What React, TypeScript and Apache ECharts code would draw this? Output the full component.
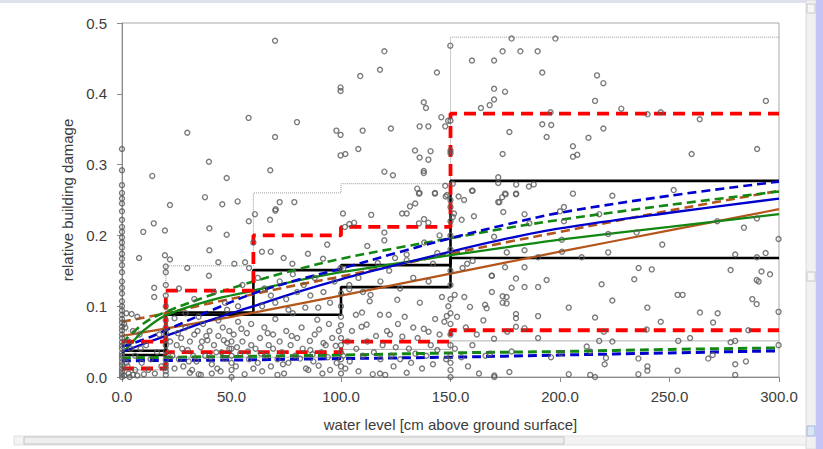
import React, { useEffect, useRef } from 'react';
import * as echarts from 'echarts';

const FONT = '"Liberation Sans", Arial, sans-serif';
const xAxisTitle = 'water level [cm above ground surface]';
const yAxisTitle = 'relative building damage';

// scatter observations [water level, relative damage]
const pointsAtZero: number[][] = [
  [0, 0.0], [0, 0.004], [0, 0.008], [0, 0.012], [0, 0.017], [0, 0.021], [0, 0.026], [0, 0.03], [0, 0.034],
  [0, 0.04], [0, 0.044], [0, 0.049], [0, 0.055], [0, 0.06], [0, 0.066], [0, 0.071], [0, 0.077], [0, 0.082],
  [0, 0.088], [0, 0.094], [0, 0.1], [0, 0.107], [0, 0.118], [0, 0.126], [0, 0.135], [0, 0.148], [0, 0.158],
  [0, 0.167], [0, 0.174], [0, 0.183], [0, 0.19], [0, 0.197], [0, 0.205], [0, 0.212], [0, 0.222], [0, 0.234],
  [0, 0.245], [0, 0.252], [0, 0.26], [0, 0.271], [0, 0.292], [0, 0.322],
];
const points0to20: number[][] = [
  [1, 0.002], [2, 0.09], [4.4, 0.089], [3, 0.005], [5, 0.003], [6, 0.01], [2, 0.02], [3, 0.05], [1.5, 0.07],
  [7, 0.085], [8, 0.06], [4, 0.04], [9, 0.02], [2.5, 0.015], [6, 0.03], [1, 0.075], [5, 0.065], [7.8, 0.168],
  [9.7, 0.205], [14.5, 0.217], [13.8, 0.284], [14.7, 0.126], [14.7, 0.113], [12, 0.01], [15, 0.005], [17, 0.06],
  [16, 0.035], [18, 0.015], [11, 0.045], [3.5, 0.0], [7, 0.002], [10, 0.004], [13, 0.025], [8.5, 0.04],
  [20, 0.003], [20, 0.008], [20, 0.013], [20, 0.018], [20, 0.024], [20, 0.03], [20, 0.037], [20, 0.045],
  [20, 0.053], [20, 0.062], [20, 0.07], [20, 0.08], [20, 0.1], [20, 0.115], [20, 0.13], [20, 0.148], [20, 0.156],
  [19.6, 0.172], [19.6, 0.207], [21.9, 0.166], [21.9, 0.243],
];
const points20to60: number[][] = [
  [23, 0.03], [25, 0.045], [26, 0.025], [27, 0.055], [28, 0.015], [29, 0.07], [30, 0.038], [31, 0.05], [32, 0.01],
  [33, 0.06], [34, 0.022], [35, 0.004], [36, 0.042], [37, 0.075], [38, 0.03], [39, 0.052], [40, 0.065], [41, 0.018],
  [42, 0.045], [43, 0.035], [44, 0.058], [45, 0.008], [46, 0.07], [47, 0.026], [48, 0.048], [49, 0.04], [50, 0.0],
  [50, 0.01], [50, 0.02], [50, 0.03], [50, 0.04], [50, 0.05], [51, 0.06], [52, 0.015], [53, 0.078], [54, 0.033],
  [55, 0.05], [56, 0.004], [57, 0.062], [58, 0.025], [59, 0.045], [60, 0.012], [24, 0.083], [29, 0.09], [35, 0.085],
  [44, 0.08], [48, 0.095], [53, 0.1], [26, 0.125], [29.8, 0.154], [39.7, 0.143], [39.9, 0.179], [44, 0.162],
  [51.3, 0.16], [56.2, 0.162], [58, 0.154], [37.9, 0.254], [45.8, 0.244], [52.8, 0.248], [39.9, 0.21], [47.8, 0.201],
  [57.9, 0.22], [29.8, 0.345], [39.7, 0.304], [47.8, 0.281], [57.8, 0.366], [33, 0.11], [42, 0.12], [47, 0.105],
  [55, 0.13], [36, 0.003], [41, 0.005], [31, 0.006], [24, 0.012], [27.5, 0.04], [32.5, 0.03], [38.5, 0.058],
  [43.5, 0.012], [46.5, 0.052], [52.5, 0.042], [57.5, 0.036], [22, 0.05], [34.5, 0.065], [40.5, 0.028],
  [45.5, 0.035], [54.5, 0.068], [59, 0.075], [30.5, 0.022], [25.5, 0.062], [36.5, 0.05], [49, 0.065],
];
const points60to100: number[][] = [
  [61, 0.04], [62, 0.02], [63, 0.055], [64, 0.008], [65, 0.07], [66, 0.03], [67, 0.045], [68, 0.015], [69, 0.06],
  [70, 0.082], [71, 0.025], [72, 0.05], [73, 0.035], [74, 0.005], [75, 0.065], [76, 0.02], [77, 0.045], [78, 0.09],
  [79, 0.03], [80, 0.055], [81.3, 0.026], [82, 0.07], [83.7, 0.098], [84, 0.012], [85.1, 0.01], [85.8, 0.051],
  [86, 0.038], [87.4, 0.022], [88, 0.06], [89.2, 0.081], [89.6, 0.098], [89.8, 0.016], [90, 0.067], [91, 0.035],
  [92, 0.048], [93, 0.045], [94, 0.028], [95, 0.01], [96, 0.055], [97.6, 0.044], [98, 0.02], [99, 0.065],
  [100, 0.005], [100, 0.015], [100, 0.025], [100, 0.035], [100, 0.045], [100, 0.055], [100, 0.073], [100, 0.085],
  [100.1, 0.118], [100, 0.1], [60.7, 0.23], [63.9, 0.177], [67.6, 0.222], [67.9, 0.177], [70, 0.235], [70.2, 0.237],
  [72, 0.247], [73.8, 0.168], [77.8, 0.16], [78.7, 0.247], [84.9, 0.174], [91.8, 0.167], [93.7, 0.187], [99.8, 0.154],
  [62, 0.14], [65, 0.125], [68, 0.115], [70, 0.105], [72, 0.135], [75, 0.11], [78, 0.145], [80, 0.12], [83, 0.13],
  [86, 0.115], [88, 0.14], [92, 0.12], [95, 0.105], [97, 0.135], [64, 0.1], [76, 0.095], [60, 0.19], [69.9, 0.339],
  [69.9, 0.475], [67.7, 0.292], [79.9, 0.36], [63.5, 0.033], [66.5, 0.062], [73.5, 0.018], [77.5, 0.058],
  [82.5, 0.04], [91.5, 0.005], [94.5, 0.075], [69, 0.04], [71, 0.003], [87, 0.032],
];
const points100to150: number[][] = [
  [101, 0.03], [102, 0.012], [103, 0.05], [104, 0.022], [105, 0.065], [106.8, 0.088], [107, 0.04], [108, 0.008],
  [109.4, 0.071], [109.6, 0.091], [110, 0.03], [111.7, 0.074], [112, 0.05], [113.1, 0.107], [113.5, 0.116],
  [114.5, 0.004], [115, 0.035], [116, 0.058], [117.8, 0.005], [117.8, 0.088], [118, 0.025], [119, 0.045],
  [120.2, 0.003], [121, 0.065], [121.8, 0.088], [122.4, 0.06], [123, 0.03], [124, 0.015], [125, 0.042],
  [125.7, 0.109], [126, 0.075], [127, 0.025], [128, 0.057], [129.1, 0.085], [130, 0.006], [131, 0.04], [132, 0.02],
  [133, 0.07], [134, 0.033], [135, 0.055], [136, 0.105], [137, 0.012], [137.8, 0.068], [139, 0.03], [140, 0.064],
  [141, 0.045], [142, 0.018], [143, 0.082], [144, 0.038], [145, 0.06], [146.1, 0.113], [147.2, 0.078], [148.3, 0.086],
  [148, 0.025], [149, 0.1], [100.9, 0.231], [101, 0.153], [101.8, 0.212], [103.8, 0.216], [103.8, 0.13],
  [103.8, 0.124], [106, 0.218], [113.8, 0.229], [116.8, 0.161], [119.8, 0.204], [119.8, 0.193], [124.7, 0.168],
  [127.9, 0.231], [130, 0.231], [130, 0.173], [130, 0.165], [131.5, 0.241], [133.9, 0.245], [135.6, 0.217],
  [135.6, 0.259], [137.9, 0.223], [139.9, 0.218], [142.9, 0.259], [147.8, 0.255], [148.4, 0.257], [108, 0.14],
  [112, 0.185], [118, 0.135], [122, 0.15], [127, 0.125], [133, 0.14], [138, 0.19], [142, 0.16], [145, 0.2],
  [110, 0.12], [140, 0.135], [144, 0.175], [99.8, 0.409], [99.8, 0.404], [97.9, 0.348], [99.8, 0.342], [99.8, 0.313],
  [102, 0.315], [107.9, 0.322], [108.8, 0.425], [109.9, 0.348], [117.8, 0.434], [119.8, 0.46], [119.8, 0.29],
  [122.8, 0.351], [123.7, 0.285], [133.8, 0.32], [134.8, 0.266], [135.9, 0.26], [135.9, 0.354], [135.9, 0.31],
  [137.8, 0.388], [137.8, 0.291], [137.8, 0.288], [138.8, 0.38], [139.9, 0.354], [139.9, 0.307], [140.9, 0.319],
  [142.9, 0.26], [143.8, 0.43], [145.8, 0.367], [147.6, 0.354], [147.6, 0.27], [148.9, 0.362],
  [150, 0.0], [150, 0.01], [150, 0.02], [150, 0.03], [150, 0.045], [150, 0.06], [150, 0.075], [150, 0.09],
  [150, 0.11], [150, 0.13], [150, 0.15], [150, 0.18], [150, 0.2], [150, 0.22], [150, 0.24], [150, 0.25],
  [150, 0.32], [150, 0.316], [150, 0.362], [149.9, 0.468],
];
const points150to300: number[][] = [
  [153.7, 0.255], [156.2, 0.25], [160.1, 0.263], [172.3, 0.247], [151.6, 0.231], [151, 0.226], [160.7, 0.227],
  [155.1, 0.222], [160.1, 0.164], [157.6, 0.16], [155.5, 0.154], [168.9, 0.143], [168.9, 0.12], [151.9, 0.116],
  [156.3, 0.113], [158.9, 0.099], [165.8, 0.102], [166.5, 0.097], [152, 0.04], [155, 0.028], [158, 0.015],
  [160, 0.045], [163, 0.005], [166, 0.03], [170, 0.0], [153, 0.085], [157, 0.07], [162, 0.06], [165, 0.08],
  [177.9, 0.478], [197.9, 0.478], [173.8, 0.46], [181.9, 0.46], [189.8, 0.46], [159.8, 0.447], [169.9, 0.447],
  [191.9, 0.43], [216.9, 0.426], [219.8, 0.415], [169.9, 0.407], [174.9, 0.403], [169.9, 0.392], [167.9, 0.384],
  [163.9, 0.38], [216, 0.39], [228, 0.379], [195.7, 0.374], [246, 0.374], [294, 0.39], [240, 0.371], [263.8, 0.364],
  [191.9, 0.357], [196, 0.356], [176.9, 0.346], [219.8, 0.351], [193.9, 0.339], [213, 0.338], [205.9, 0.326],
  [205.9, 0.311], [207.9, 0.314], [173.8, 0.315], [260.1, 0.315], [290, 0.322], [171.8, 0.282], [171.8, 0.274],
  [180, 0.272], [185.8, 0.269], [188, 0.272], [151, 0.273], [159.8, 0.263], [174.9, 0.259], [180, 0.259],
  [205.9, 0.259], [251.9, 0.264], [171.8, 0.247], [173.6, 0.254], [175.2, 0.258], [179.9, 0.258], [174.1, 0.233],
  [223.9, 0.256], [183.8, 0.23], [186, 0.217], [200, 0.234], [201.8, 0.24], [201.8, 0.22], [217.9, 0.23],
  [169.9, 0.198], [175.7, 0.176], [183.8, 0.179], [200.8, 0.194], [200.9, 0.177], [222, 0.176], [222, 0.202],
  [235, 0.204], [246.7, 0.187], [271.8, 0.22], [289.9, 0.224], [284, 0.211], [299.8, 0.195], [190, 0.169],
  [209.9, 0.169], [280, 0.173], [293.9, 0.175], [289.9, 0.169], [168.8, 0.143], [174.9, 0.155], [183.8, 0.155],
  [179.9, 0.139], [177.9, 0.126], [183.8, 0.127], [190, 0.127], [193.9, 0.137], [219, 0.131], [233.9, 0.138],
  [235.9, 0.154], [241.9, 0.152], [277.9, 0.151], [292, 0.149], [289.8, 0.137], [290.7, 0.135], [295.9, 0.145],
  [173.8, 0.114], [175.6, 0.113], [173.8, 0.105], [175.6, 0.104], [204, 0.098], [223.9, 0.108], [239.9, 0.098],
  [253.7, 0.116], [256, 0.116], [287.8, 0.11], [289.8, 0.103], [299.8, 0.092], [179.9, 0.089], [179.9, 0.083],
  [179.9, 0.071], [183.8, 0.069], [190, 0.086], [216, 0.084], [246, 0.078], [263.9, 0.091], [272, 0.09],
  [269.9, 0.077], [169.9, 0.054], [175.9, 0.064], [190, 0.055], [217.9, 0.051], [223.9, 0.05], [220, 0.064],
  [239.6, 0.067], [254, 0.051], [259.4, 0.055], [277.9, 0.049], [280, 0.051], [286, 0.066], [212.2, 0.043],
  [213.7, 0.036], [200.3, 0.034], [177.9, 0.036], [168, 0.033], [195.9, 0.028], [221, 0.027], [220.4, 0.018],
  [235.8, 0.026], [239.9, 0.015], [239.9, 0.009], [253.7, 0.009], [267.7, 0.026], [269.7, 0.031], [280, 0.018],
  [284.9, 0.022], [299.8, 0.045], [170, 0.002], [176.9, 0.007], [204, 0.004], [213.8, 0.003], [216, 0.0],
  [235.8, 0.004], [280, 0.003],
];

// step envelopes (class limits 0, 20, 60, 100, 150, 300 cm)
const greyUpperStep: number[][] = [[0, 0.065], [20, 0.065], [20, 0.157], [60, 0.157], [60, 0.26], [100, 0.26], [100, 0.273], [150, 0.273], [150, 0.48], [300, 0.48]];
const greyLowerStep: number[][] = [[0, 0.01], [20, 0.01], [20, 0.028], [60, 0.028], [100, 0.028], [100, 0.039], [150, 0.039], [150, 0.051], [300, 0.051]];
const blackUpperStep: number[][] = [[0, 0.037], [20, 0.037], [20, 0.091], [60, 0.091], [60, 0.151], [100, 0.151], [100, 0.158], [150, 0.158], [150, 0.277], [300, 0.277]];
const blackLowerStep: number[][] = [[0, 0.031], [20, 0.031], [20, 0.088], [60, 0.088], [100, 0.088], [100, 0.127], [150, 0.127], [150, 0.168], [300, 0.168]];
const redUpperStep: number[][] = [[0, 0.05], [20, 0.05], [20, 0.122], [60, 0.122], [60, 0.2], [100, 0.2], [100, 0.212], [150, 0.212], [150, 0.372], [300, 0.372]];
const redLowerStep: number[][] = [[0, 0.012], [20, 0.012], [20, 0.035], [60, 0.035], [100, 0.035], [100, 0.05], [150, 0.05], [150, 0.066], [300, 0.066]];

// fitted curves
const blueSolid: number[][] = [[0, 0.035], [10, 0.047], [20, 0.058], [40, 0.08], [60, 0.1], [80, 0.12], [100, 0.138], [125, 0.158], [150, 0.177], [175, 0.195], [200, 0.21], [250, 0.232], [300, 0.252]];
const blueDashed: number[][] = [[0, 0.043], [10, 0.053], [20, 0.066], [40, 0.093], [60, 0.118], [80, 0.137], [100, 0.153], [125, 0.175], [150, 0.196], [175, 0.215], [200, 0.232], [250, 0.256], [300, 0.276]];
const greenSolid: number[][] = [[0, 0.033], [5, 0.05], [10, 0.066], [20, 0.087], [40, 0.108], [60, 0.122], [80, 0.136], [100, 0.148], [125, 0.16], [150, 0.172], [175, 0.183], [200, 0.194], [250, 0.212], [300, 0.23]];
const greenDashed: number[][] = [[0, 0.048], [10, 0.076], [20, 0.092], [40, 0.115], [60, 0.135], [80, 0.152], [100, 0.167], [125, 0.182], [150, 0.196], [175, 0.21], [200, 0.222], [250, 0.243], [300, 0.262]];
const brownSolid: number[][] = [[0, 0.058], [50, 0.085], [100, 0.115], [150, 0.146], [200, 0.177], [250, 0.207], [300, 0.237]];
const brownDashed: number[][] = [[0, 0.078], [20, 0.09], [40, 0.104], [60, 0.117], [80, 0.13], [100, 0.142], [125, 0.158], [150, 0.174], [175, 0.19], [200, 0.205], [250, 0.235], [300, 0.263]];
const greenLowDashed: number[][] = [[0, 0.027], [50, 0.029], [100, 0.031], [150, 0.034], [200, 0.036], [250, 0.039], [300, 0.041]];
const blueLowDashed: number[][] = [[0, 0.023], [50, 0.024], [100, 0.026], [150, 0.028], [200, 0.031], [250, 0.034], [300, 0.037]];

const RED = '#ff0000';
const BLUE = '#0000cc';
const GREEN = '#118811';
const BROWN = '#b4561c';

function lineSeries(data: number[][], color: string, width: number, type: any, z: number, smooth = false) {
  return {
    type: 'line',
    data,
    symbol: 'none',
    smooth: smooth ? 0.35 : false,
    lineStyle: { color, width, type, cap: 'butt' },
    z,
    silent: true,
  };
}

export default function App() {
  const ref = useRef<HTMLDivElement>(null);
  useEffect(() => {
    if (!ref.current) return;
    const chart = echarts.init(ref.current, null, { renderer: 'svg' });
    const allPoints = [...pointsAtZero, ...points0to20, ...points20to60, ...points60to100, ...points100to150, ...points150to300];
    const labelStyle = { fontFamily: FONT, fontSize: 15, color: '#3c3c3c' };
    chart.setOption({
      animation: false,
      backgroundColor: '#ffffff',
      grid: { left: 122, right: 44, top: 23, bottom: 72, show: true, borderColor: '#a8a8a8', borderWidth: 1 },
      xAxis: {
        type: 'value', min: 0, max: 300, interval: 50,
        name: xAxisTitle, nameLocation: 'middle', nameGap: 40,
        nameTextStyle: labelStyle,
        axisLine: { show: true, lineStyle: { color: '#8a8a8a', width: 1 } },
        axisTick: { show: true, length: 5, lineStyle: { color: '#8a8a8a' } },
        axisLabel: { ...labelStyle, margin: 12, formatter: (v: number) => v.toFixed(1) },
        splitLine: { show: false },
      },
      yAxis: {
        type: 'value', min: 0, max: 0.5, interval: 0.1,
        name: yAxisTitle, nameLocation: 'middle', nameGap: 46,
        nameTextStyle: labelStyle,
        axisLine: { show: true, lineStyle: { color: '#8a8a8a', width: 1 } },
        axisTick: { show: true, length: 5, lineStyle: { color: '#8a8a8a' } },
        axisLabel: { ...labelStyle, margin: 15, formatter: (v: number) => v.toFixed(1) },
        splitLine: { show: false },
      },
      series: [
        lineSeries(greyUpperStep, '#9a9a9a', 1, 'dotted', 2),
        lineSeries(greyLowerStep, '#b0b0b0', 1, 'solid', 2),
        lineSeries(blackUpperStep, '#000000', 2.6, 'solid', 3),
        lineSeries(blackLowerStep, '#000000', 2.6, 'solid', 3),
        lineSeries(brownSolid, BROWN, 2.2, 'solid', 4, true),
        lineSeries(brownDashed, BROWN, 2.6, [9, 5], 4, true),
        lineSeries(greenSolid, GREEN, 2.3, 'solid', 5, true),
        lineSeries(greenDashed, GREEN, 2.6, [9, 5], 5, true),
        lineSeries(blueSolid, BLUE, 2.3, 'solid', 6, true),
        lineSeries(blueDashed, BLUE, 2.6, [9, 5], 6, true),
        lineSeries(greenLowDashed, GREEN, 3, [9, 5], 5, true),
        lineSeries(blueLowDashed, BLUE, 3, [9, 5], 6, true),
        lineSeries(redUpperStep, RED, 3.8, [12, 7], 7),
        lineSeries(redLowerStep, RED, 3.8, [12, 7], 7),
        {
          type: 'scatter',
          data: allPoints,
          symbol: 'circle',
          symbolSize: 5,
          itemStyle: { color: 'rgba(255,255,255,0)', borderColor: '#5a5a5a', borderWidth: 1.4 },
          z: 8,
          silent: true,
        },
      ],
      graphic: [
        { type: 'rect', shape: { x: 0, y: 0, width: 823, height: 3 }, style: { fill: '#dde2ea' }, silent: true },
        { type: 'rect', shape: { x: 806, y: 0, width: 10, height: 449 }, style: { fill: '#f1f1f1', stroke: '#dadada', lineWidth: 1 }, silent: true },
        { type: 'rect', shape: { x: 807, y: 4, width: 8, height: 9 }, style: { fill: '#f7f7f7', stroke: '#c8c8c8', lineWidth: 1 }, silent: true },
        { type: 'rect', shape: { x: 807, y: 272, width: 8, height: 9 }, style: { fill: '#f7f7f7', stroke: '#c8c8c8', lineWidth: 1 }, silent: true },
        { type: 'rect', shape: { x: 807, y: 426, width: 8, height: 10 }, style: { fill: '#dbe6f5', stroke: '#9fb4d8', lineWidth: 1 }, silent: true },
        { type: 'rect', shape: { x: 816, y: 0, width: 7, height: 449 }, style: { fill: '#c4c5f6' }, silent: true },
        { type: 'rect', shape: { x: 14, y: 436, width: 792, height: 9 }, style: { fill: '#f3f3f3', stroke: '#e0e0e0', lineWidth: 1 }, silent: true },
        { type: 'rect', shape: { x: 24, y: 437, width: 540, height: 7 }, style: { fill: '#efefef', stroke: '#c4c4c4', lineWidth: 1 }, silent: true },
      ],
    });
    return () => chart.dispose();
  }, []);
  return <div ref={ref} style={{ position: 'fixed', left: 0, top: 0, width: 823, height: 449 }} />;
}
